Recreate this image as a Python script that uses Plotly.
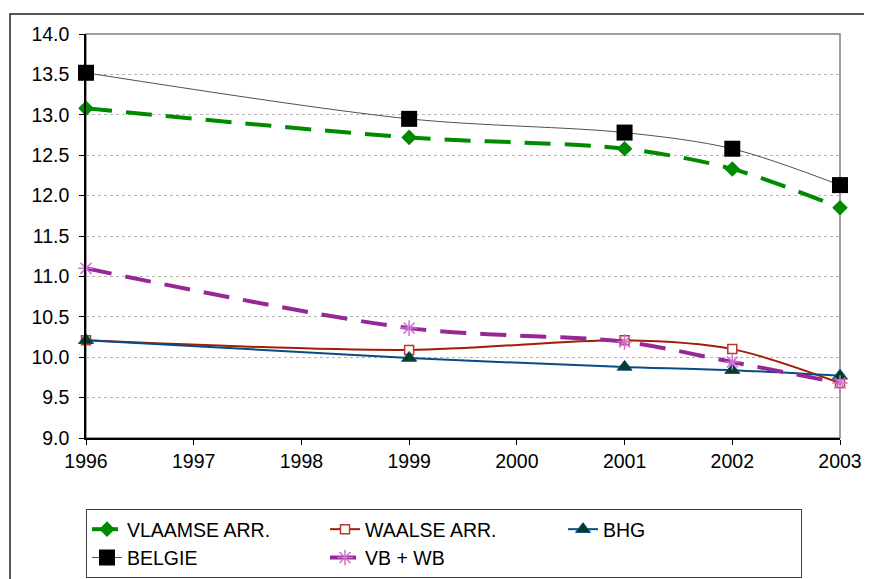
import plotly.graph_objects as go

years = [1996, 1999, 2001, 2002, 2003]
vlaamse = [13.08, 12.72, 12.58, 12.33, 11.85]
waalse = [10.21, 10.09, 10.21, 10.10, 9.68]
bhg = [10.21, 9.99, 9.88, 9.84, 9.77]
belgie = [13.52, 12.95, 12.78, 12.58, 12.13]
vbwb = [11.10, 10.36, 10.19, 9.94, 9.68]

FONT = "Liberation Sans, Arial, sans-serif"

fig = go.Figure()

fig.add_trace(go.Scatter(
    x=years, y=vlaamse, name="VLAAMSE ARR.", mode="lines+markers",
    line=dict(color="#008a00", width=4, dash="26px,14px", shape="spline", smoothing=0.9),
    marker=dict(symbol="diamond", size=12, color="#008a00"), cliponaxis=False))
fig.add_trace(go.Scatter(
    x=years, y=waalse, name="WAALSE ARR.", mode="lines+markers",
    line=dict(color="#a01e08", width=2, shape="spline", smoothing=0.9),
    marker=dict(symbol="square", size=9, color="white", line=dict(color="#b83a2a", width=1.5)),
    cliponaxis=False))
fig.add_trace(go.Scatter(
    x=years, y=bhg, name="BHG", mode="lines+markers",
    line=dict(color="#0a4a86", width=2, shape="spline", smoothing=0.9),
    marker=dict(symbol="triangle-up", size=13, color="#004020", line=dict(color="#0a4a86", width=1)),
    cliponaxis=False))
fig.add_trace(go.Scatter(
    x=years, y=belgie, name="BELGIE", mode="lines+markers",
    line=dict(color="#505050", width=1, shape="spline", smoothing=0.9),
    marker=dict(symbol="square", size=16, color="black"), cliponaxis=False))
fig.add_trace(go.Scatter(
    x=years, y=vbwb, name="VB + WB", mode="lines+markers",
    line=dict(color="#962896", width=4, dash="26px,14px", shape="spline", smoothing=0.9),
    marker=dict(symbol="asterisk-open", size=13, color="#d070d0", line=dict(color="#d070d0", width=1.5)),
    cliponaxis=False))

OFF = 8  # page body margin
L, R, T, B = 78, 32, 26, 141
W, H = 864, 571
pw, ph = W - L - R, H - T - B

def px_x(px):
    return (px - OFF - L) / pw

def px_y(py):
    return (H - B - (py - OFF)) / ph

ox0, oy_top, ox1, oy_bot = px_x(10), px_y(14), px_x(950), px_y(650)
outer_path = f"M {ox0},{oy_bot} L {ox0},{oy_top} L {ox1},{oy_top}"

fig.update_layout(
    width=W, height=H,
    margin=dict(l=L, r=R, t=T, b=B, autoexpand=False),
    paper_bgcolor="white", plot_bgcolor="white",
    font=dict(family=FONT, size=19.5, color="black"),
    showlegend=True,
    legend=dict(
        orientation="h", x=0, xanchor="left", y=px_y(509), yanchor="top",
        bordercolor="#404040", borderwidth=1, bgcolor="white",
        entrywidth=193, entrywidthmode="pixels",
        font=dict(family=FONT, size=19.5), traceorder="normal",
        itemwidth=30,
    ),
    xaxis=dict(
        range=[1996, 2003], dtick=1, tick0=1996, showgrid=False,
        showline=True, linecolor="black", linewidth=1.5,
        ticks="outside", ticklen=5, tickcolor="black", zeroline=False,
        tickfont=dict(family=FONT, size=19.5),
    ),
    yaxis=dict(
        range=[9, 14], dtick=0.5, tick0=9, tickformat=".1f",
        showgrid=True, gridcolor="#b4b4b4", griddash="dot", gridwidth=1,
        showline=True, linecolor="black", linewidth=1.5,
        ticks="outside", ticklen=5, tickcolor="black", zeroline=False,
        tickfont=dict(family=FONT, size=19.5), ticklabelstandoff=6,
    ),
    shapes=[
        dict(type="rect", xref="paper", yref="paper", x0=0, x1=1, y0=0, y1=1,
             line=dict(color="#808080", width=1.5), layer="below"),
        dict(type="path", xref="paper", yref="paper", path=outer_path,
             line=dict(color="#202020", width=1.5), layer="below"),
    ],
)

fig.write_html("out.html")
